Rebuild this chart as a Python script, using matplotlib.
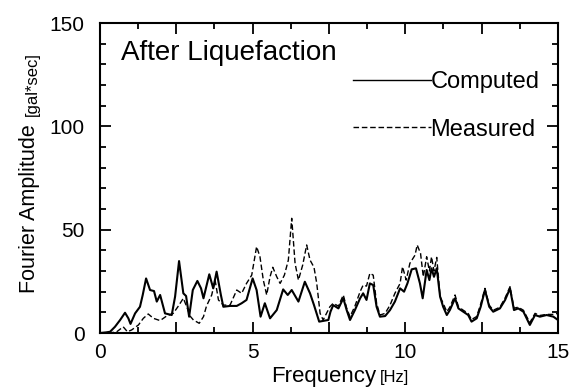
import matplotlib
matplotlib.use("Agg")
import matplotlib.pyplot as plt
from matplotlib.ticker import MultipleLocator, FuncFormatter
from matplotlib.lines import Line2D

plt.rcParams["font.family"] = ["Liberation Sans", "DejaVu Sans"]

# Computed spectrum
freq_c = [0.0, 0.2, 0.33, 0.49, 0.66, 0.82, 0.93, 1.0, 1.15, 1.31, 1.4, 1.51, 1.64, 1.77,
          1.86, 1.97, 2.13, 2.35, 2.46, 2.59, 2.73, 2.82, 2.92, 3.04, 3.19, 3.31, 3.39,
          3.58, 3.71, 3.82, 3.96, 4.04, 4.26, 4.48, 4.64, 4.8, 5.0, 5.13, 5.26, 5.4, 5.57,
          5.79, 6.0, 6.15, 6.28, 6.5, 6.71, 6.88, 7.01, 7.18, 7.48, 7.55, 7.64, 7.81, 7.97,
          8.08, 8.19, 8.35, 8.52, 8.62, 8.73, 8.84, 8.95, 9.06, 9.17, 9.34, 9.5, 9.66, 9.83,
          9.96, 10.07, 10.21, 10.35, 10.48, 10.57, 10.7, 10.79, 10.86, 10.94, 11.03, 11.14,
          11.24, 11.36, 11.46, 11.63, 11.74, 11.9, 12.06, 12.17, 12.34, 12.47, 12.61, 12.75,
          12.88, 13.1, 13.27, 13.43, 13.56, 13.7, 13.87, 14.08, 14.25, 14.41, 14.63, 14.85, 15.0]
amp_c = [0, 0.3, 0.6, 3, 6.3, 9.8, 7.1, 4.4, 9.5, 12.7, 18.4, 26.4, 20.8, 20.3,
         15.2, 18.4, 9.5, 8.7, 17.6, 34.8, 19.2, 17.9, 7.9, 20.8, 25.2, 21.6, 16.8,
         28.4, 21.6, 29.7, 18.4, 12.7, 13.1, 13.1, 14.4, 16, 26.4, 20.8, 7.9, 14.4, 7.1,
         11.1, 21.1, 18.4, 20.8, 15.2, 24.8, 19.2, 13.5, 5.5, 6.3, 10.3, 13.5, 11.9, 16.8,
         11.1, 6.3, 11.1, 16.8, 19.2, 16, 24, 23.2, 12.7, 7.9, 8.2, 11.1, 15.2, 21.6,
         20, 24, 30.8, 31.3, 24, 16.8, 30.5, 25.6, 31.3, 27.2, 31.3, 17.6,
         12.7, 8.7, 11.1, 16.8, 11.9, 10.3, 8.7, 5.5, 7.1, 12.7, 20.8, 12.7,
         10.3, 11.9, 16, 21.6, 11.1, 11.9, 10.3, 3.9, 8.7, 7.9, 8.7, 7.9, 6.3]

# Measured spectrum
freq_m = [0.0, 0.4, 0.55, 0.76, 0.9, 1.04, 1.26, 1.42, 1.58, 1.75, 1.97, 2.18, 2.4, 2.57,
          2.73, 2.86, 2.95, 3.06, 3.25, 3.39, 3.49, 3.66, 3.77, 3.88, 4.04, 4.26, 4.48,
          4.64, 4.8, 4.97, 5.13, 5.24, 5.35, 5.46, 5.57, 5.66, 5.79, 5.9, 6.04, 6.17, 6.28,
          6.39, 6.5, 6.64, 6.77, 6.88, 7.01, 7.1, 7.21, 7.31, 7.53, 7.64, 7.81, 7.97, 8.08,
          8.19, 8.35, 8.52, 8.62, 8.73, 8.84, 8.95, 9.06, 9.17, 9.34, 9.5, 9.66, 9.83, 9.91,
          10.03, 10.15, 10.32, 10.39, 10.5, 10.59, 10.7, 10.79, 10.86, 10.94, 11.03, 11.14,
          11.24, 11.36, 11.46, 11.63, 11.74, 11.9, 12.06, 12.17, 12.34, 12.47, 12.61, 12.75,
          12.88, 13.1, 13.27, 13.43, 13.56, 13.7, 13.87, 14.08, 14.25, 14.41, 14.63, 14.85, 15.0]
amp_m = [0, 0.2, 0.6, 3, 0.6, 1.5, 3.9, 7.1, 9.2, 7.1, 6, 8.2, 9.5, 13.1,
         16.8, 12, 8.2, 6.3, 4.7, 7.9, 13.1, 18.4, 25.6, 16, 13.5, 13.5, 20.8,
         19.2, 24, 28, 41.8, 36.9, 25.6, 18.4, 27.2, 31.8, 27.2, 24, 28, 35.3, 55.5,
         33.7, 25.6, 32.9, 42.6, 35.3, 31.8, 24, 9.5, 6.3, 12.7, 14.4, 13, 18.4, 12,
         7.9, 13, 20, 23.2, 22.7, 28.9, 28, 14.4, 8.7, 9.5, 13.5, 19.2, 24, 32.1,
         25.6, 33.7, 37.7, 42.6, 38.5, 27.2, 36.9, 30, 36.9, 30, 36.6, 17.6,
         14.4, 10.3, 12.5, 18.4, 12.7, 11, 9.5, 6.5, 8, 14, 21.6, 13.5,
         11, 12.5, 17, 22.4, 12, 12.5, 11, 5, 9.5, 8.5, 9, 9, 9.5]

fig = plt.figure(figsize=(5.83, 3.92), dpi=100)
ax = fig.add_axes([0.1715, 0.1505, 0.7855, 0.7908])

ax.plot(freq_c, amp_c, color="black", lw=1.5)
ax.plot(freq_m, amp_m, color="black", lw=1.0, dashes=(4, 2))

ax.set_xlim(0, 15)
ax.set_ylim(0, 150)
ax.xaxis.set_major_locator(MultipleLocator(2.5))
ax.xaxis.set_minor_locator(MultipleLocator(1.25))
ax.xaxis.set_major_formatter(FuncFormatter(lambda v, p: "%d" % v if v % 5 == 0 else ""))
ax.yaxis.set_major_locator(MultipleLocator(50))
ax.yaxis.set_minor_locator(MultipleLocator(10))
ax.tick_params(which="both", direction="in", top=True, right=True, width=1.3, labelsize=15)
ax.tick_params(which="major", length=8)
ax.tick_params(which="minor", length=4)
ax.tick_params(axis="x", pad=7)
ax.tick_params(axis="y", pad=11)
for s in ax.spines.values():
    s.set_linewidth(1.5)

ax.text(0.046, 0.88, "After Liquefaction", transform=ax.transAxes, fontsize=20,
        va="baseline")

ax.text(0.603, -0.157, "Frequency", transform=ax.transAxes, fontsize=16,
        ha="right", va="baseline")
ax.text(0.611, -0.157, "[Hz]", transform=ax.transAxes, fontsize=12,
        ha="left", va="baseline")
ax.text(-0.153, 0.13, "Fourier Amplitude", transform=ax.transAxes, fontsize=15.5,
        rotation=90, ha="center", va="bottom")
ax.text(-0.147, 0.906, "[gal*sec]", transform=ax.transAxes, fontsize=12,
        rotation=90, ha="center", va="top")

handles = [Line2D([], [], color="black", lw=1.0),
           Line2D([], [], color="black", lw=1.0, dashes=(4, 2))]
ax.legend(handles, ["Computed", "Measured"], loc="upper right", bbox_to_anchor=(0.96, 0.845),
          frameon=False, fontsize=17, handlelength=3.3, handletextpad=0.0,
          labelspacing=1.08, borderaxespad=0.0, borderpad=0.0)

fig.savefig("out.png", dpi=100)
